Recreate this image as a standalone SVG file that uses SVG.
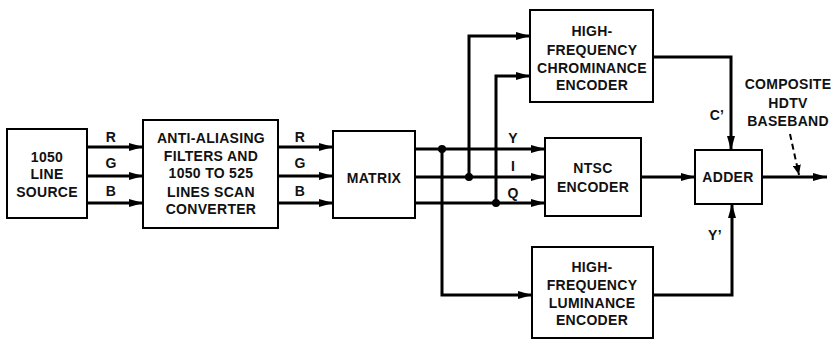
<svg xmlns="http://www.w3.org/2000/svg" width="831" height="340" viewBox="0 0 831 340">
<defs>
<marker id="ah" markerWidth="14" markerHeight="8" refX="14" refY="4" orient="auto" markerUnits="userSpaceOnUse">
<path d="M0,0 L14,4 L0,8 Z" fill="#000"/>
</marker>
<marker id="ahs" markerWidth="10" markerHeight="8" refX="10" refY="4" orient="auto" markerUnits="userSpaceOnUse">
<path d="M0,0 L10,4 L0,8 Z" fill="#000"/>
</marker>
<style>
.box{fill:#fff;stroke:#000;stroke-width:2}
.t{font-family:"Liberation Sans",Arial,sans-serif;font-weight:bold;font-size:14px;letter-spacing:0.3px;text-anchor:middle;fill:#111}
.w{fill:none;stroke:#000;stroke-width:3}
.a{fill:none;stroke:#000;stroke-width:3;marker-end:url(#ah)}
.dot{fill:#000}
</style>
</defs>
<rect width="831" height="340" fill="#fff"/>

<g id="connectors">
<line class="a" x1="87" y1="147" x2="143" y2="147"/>
<line class="a" x1="87" y1="176" x2="143" y2="176"/>
<line class="a" x1="87" y1="203" x2="143" y2="203"/>
<text class="t" x="111" y="142">R</text>
<text class="t" x="111" y="168">G</text>
<text class="t" x="111" y="196">B</text>
<line class="a" x1="278" y1="147" x2="333" y2="147"/>
<line class="a" x1="278" y1="176" x2="333" y2="176"/>
<line class="a" x1="278" y1="203" x2="333" y2="203"/>
<text class="t" x="300" y="142">R</text>
<text class="t" x="300" y="168">G</text>
<text class="t" x="300" y="196">B</text>
<line class="a" x1="415" y1="149" x2="545" y2="149"/>
<line class="a" x1="415" y1="177" x2="545" y2="177"/>
<line class="a" x1="415" y1="203" x2="545" y2="203"/>
<text class="t" x="513" y="143">Y</text>
<text class="t" x="513" y="171">I</text>
<text class="t" x="513" y="198">Q</text>
<circle class="dot" cx="442" cy="149" r="4"/>
<circle class="dot" cx="469" cy="177" r="4"/>
<circle class="dot" cx="496" cy="203" r="4"/>
<polyline class="a" points="469,177 469,36 530,36"/>
<polyline class="a" points="496,203 496,76 530,76"/>
<polyline class="a" points="442,149 442,295 532,295"/>
<polyline class="a" points="653,57 731,57 731,150"/>
<text class="t" x="717" y="120">C’</text>
<polyline class="a" points="653,295 732,295 732,204"/>
<text class="t" x="715" y="240">Y’</text>
<line class="a" x1="641" y1="177" x2="695" y2="177"/>
<line class="a" x1="762" y1="177" x2="827" y2="177"/>
<line x1="790" y1="134" x2="799" y2="175" stroke="#000" stroke-width="2" stroke-dasharray="6,4" marker-end="url(#ahs)"/>
<text class="t" x="788" y="89">COMPOSITE</text>
<text class="t" x="788" y="108">HDTV</text>
<text class="t" x="788" y="126">BASEBAND</text>
</g>

<g id="source">
<rect class="box" x="7" y="129" width="80" height="89"/>
<text class="t" x="47" y="162">1050</text>
<text class="t" x="47" y="179">LINE</text>
<text class="t" x="47" y="197">SOURCE</text>
</g>

<g id="antialias">
<rect class="box" x="143" y="120" width="135" height="108"/>
<text class="t" x="211" y="143">ANTI-ALIASING</text>
<text class="t" x="211" y="161">FILTERS AND</text>
<text class="t" x="211" y="178">1050 TO 525</text>
<text class="t" x="211" y="197">LINES SCAN</text>
<text class="t" x="211" y="214">CONVERTER</text>
</g>

<g id="matrix">
<rect class="box" x="333" y="131" width="82" height="87"/>
<text class="t" x="374" y="183">MATRIX</text>
</g>

<g id="chroma">
<rect class="box" x="530" y="10" width="123" height="92"/>
<text class="t" x="592" y="36">HIGH-</text>
<text class="t" x="592" y="55">FREQUENCY</text>
<text class="t" x="592" y="73">CHROMINANCE</text>
<text class="t" x="592" y="90">ENCODER</text>
</g>

<g id="ntsc">
<rect class="box" x="545" y="138" width="96" height="78"/>
<text class="t" x="593" y="173">NTSC</text>
<text class="t" x="593" y="192">ENCODER</text>
</g>

<g id="adder">
<rect class="box" x="695" y="150" width="67" height="54"/>
<text class="t" x="728" y="182">ADDER</text>
</g>

<g id="luminance">
<rect class="box" x="532" y="247" width="121" height="91"/>
<text class="t" x="592" y="272">HIGH-</text>
<text class="t" x="592" y="290">FREQUENCY</text>
<text class="t" x="592" y="308">LUMINANCE</text>
<text class="t" x="592" y="325">ENCODER</text>
</g>
</svg>
